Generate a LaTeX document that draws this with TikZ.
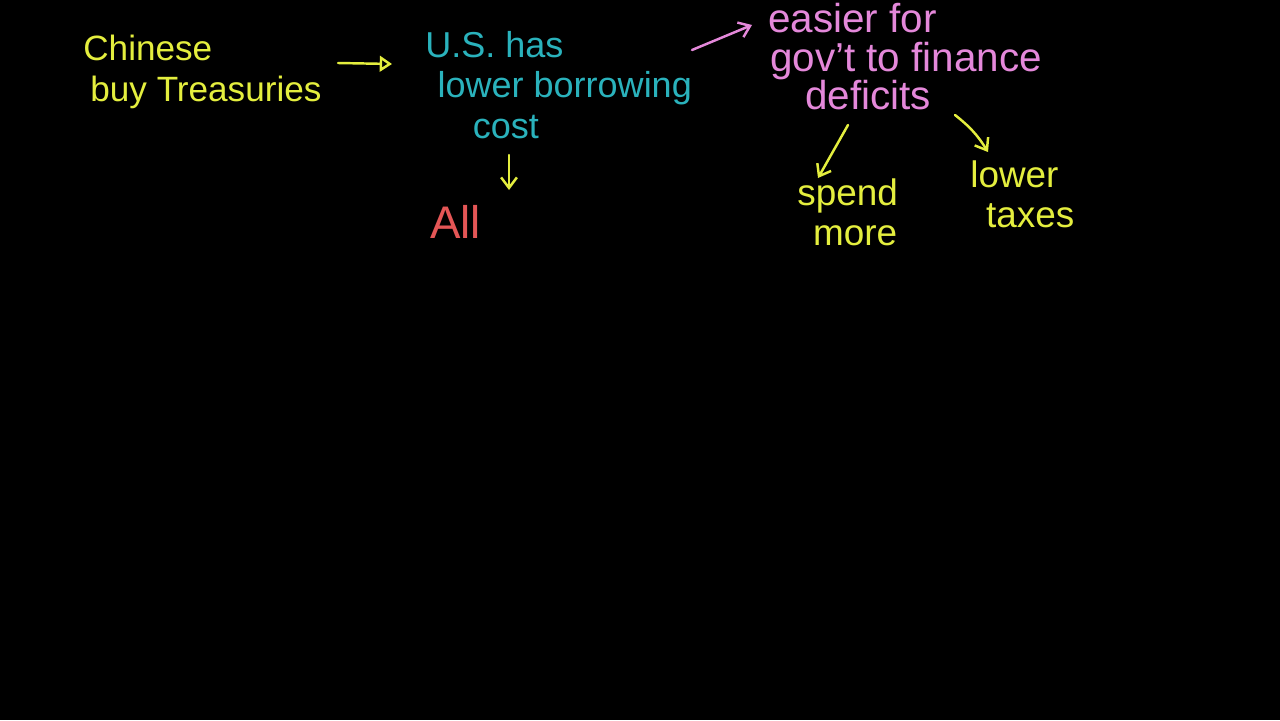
\documentclass[tikz,border=0pt]{standalone}
\usepackage{fontspec}
\setmainfont{Liberation Sans}
\usetikzlibrary{positioning}
\usetikzlibrary{calc}
\usetikzlibrary{arrows.meta}
\definecolor{chalkyellow}{RGB}{228,238,62}
\definecolor{chalkteal}{RGB}{42,178,188}
\definecolor{chalkpink}{RGB}{228,136,218}
\definecolor{chalkred}{RGB}{228,86,86}

\begin{document}
\begin{tikzpicture}[
    x=0.02cm, y=-0.02cm,
    note/.style={anchor=north west, inner sep=0pt, align=left, font=\fontsize{21}{23}\selectfont},
    arr/.style={-{Straight Barb[length=6pt, width=9pt]}, line width=1.4pt, line cap=round},
]
    \fill[black] (0,0) rectangle (1280,720);

    \node[note, text=chalkyellow, font=\fontsize{20}{23}\selectfont] (chinese) at (83,35) {Chinese\\\hspace{4pt}buy Treasuries};
    \node[note, text=chalkteal, font=\fontsize{20.5}{23}\selectfont] (usa) at (425,31) {U.S. has\\\hspace{7pt}lower borrowing\\\hspace{27pt}cost};
    \node[note, text=chalkpink, font=\fontsize{23}{22}\selectfont] (gov) at (768,3) {easier for\\\hspace{1pt}gov't to finance\\\hspace{21pt}deficits};
    \node[note, text=chalkred, font=\fontsize{26}{28}\selectfont] (all) at (430,205) {All};
    \node[note, text=chalkyellow] (spend) at (797,178) {spend\\\hspace{9pt}more};
    \node[note, text=chalkyellow] (taxes) at (970,160) {lower\\\hspace{9pt}taxes};

    \draw[arr, chalkyellow, -{Triangle[open, length=7pt, width=9pt]}] ($(chinese.north west)+(255,28)$) -- ($(usa.north west)+(-33,33)$);
    \draw[arr, chalkyellow] ($(usa.north west)+(84,124)$) -- ($(all.north west)+(79,-15)$);
    \draw[arr, chalkpink] ($(usa.north west)+(267,19)$) -- ($(gov.north west)+(-16,22)$);
    \draw[arr, chalkyellow] ($(gov.north west)+(80,122)$) -- ($(spend.north west)+(21,0)$);
    \draw[arr, chalkyellow] ($(gov.north west)+(187,112)$) to[bend left=10] ($(taxes.north west)+(18,-8)$);
\end{tikzpicture}
\end{document}
